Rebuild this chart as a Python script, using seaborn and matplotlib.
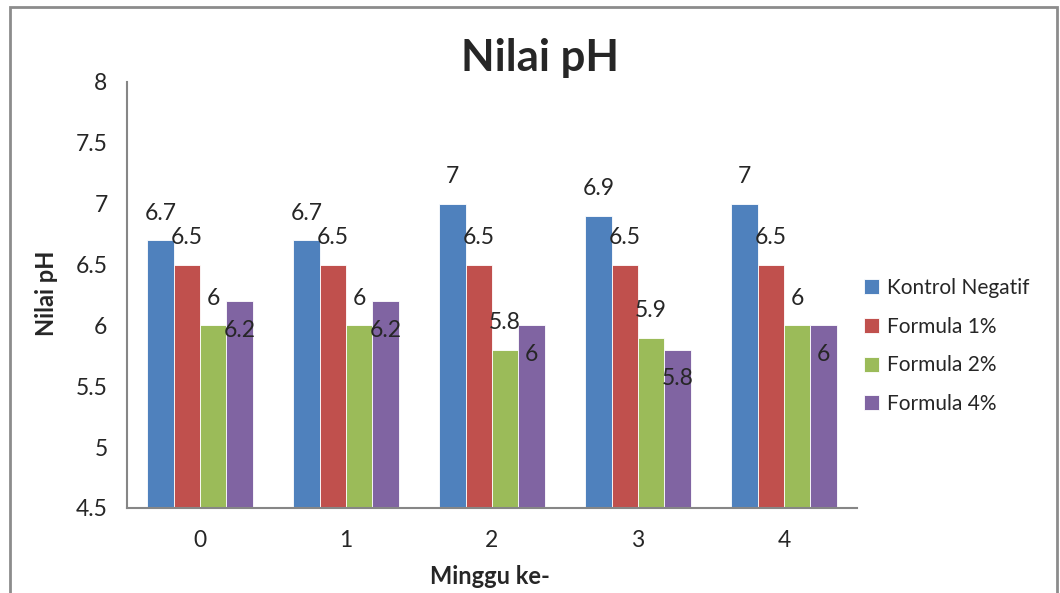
import matplotlib.pyplot as plt
import pandas as pd
import seaborn as sns
from matplotlib.patches import Rectangle

# Data
weeks = ['0', '1', '2', '3', '4']
series = ['Kontrol Negatif', 'Formula 1%', 'Formula 2%', 'Formula 4%']
kontrol = [6.7, 6.7, 7, 6.9, 7]
formula_1 = [6.5, 6.5, 6.5, 6.5, 6.5]
formula_2 = [6, 6, 5.8, 5.9, 6]
formula_4 = [6.2, 6.2, 6, 5.8, 6]
colors = ['#4F81BD', '#C0504D', '#9BBB59', '#8064A2']

# Long format table for seaborn
rows = []
for name, vals in zip(series, [kontrol, formula_1, formula_2, formula_4]):
    for w, v in zip(weeks, vals):
        rows.append({'Minggu': w, 'Seri': name, 'pH': v})
df = pd.DataFrame(rows)

sns.set_style('white')
plt.rcParams['font.family'] = ['Lato', 'DejaVu Sans']

fig = plt.figure(figsize=(10.6, 5.93), dpi=100)
ax = fig.add_axes([127 / 1060, 1 - 508 / 593, 730 / 1060, 426 / 593])

sns.barplot(data=df, x='Minggu', y='pH', hue='Seri', palette=colors,
            width=0.72, ax=ax, edgecolor='white', linewidth=0.6, saturation=1)

ax.set_ylim(4.5, 8)
ax.set_xlim(-0.5, 4.5)
ax.set_yticks([4.5, 5, 5.5, 6, 6.5, 7, 7.5, 8])
ax.set_yticklabels(['4.5', '5', '5.5', '6', '6.5', '7', '7.5', '8'])
ax.tick_params(axis='both', length=0, labelsize=16.5, pad=14)
ax.tick_params(axis='x', pad=16)

for side in ['top', 'right']:
    ax.spines[side].set_visible(False)
for side in ['left', 'bottom']:
    ax.spines[side].set_color('#868686')
    ax.spines[side].set_linewidth(1.5)

# Data labels
for i, cont in enumerate(ax.containers):
    off = -21 if i == 3 else 19.5
    for bar in cont:
        h = bar.get_height()
        ax.annotate(f'{h:g}', (bar.get_x() + bar.get_width() / 2, h),
                    xytext=(0, off), textcoords='offset points',
                    ha='center', va='center', fontsize=16.5, clip_on=False)

ax.set_xlabel('')
ax.set_ylabel('')
fig.text(540 / 1060, 1 - 58 / 593, 'Nilai pH', fontsize=31.5, fontweight='bold',
         ha='center', va='center')
fig.text(46 / 1060, 1 - 293 / 593, 'Nilai pH', fontsize=17, fontweight='bold',
         ha='center', va='center', rotation=90)
fig.text(490 / 1060, 1 - 577 / 593, 'Minggu ke-', fontsize=17, fontweight='bold',
         ha='center', va='center')

ax.legend(loc='center left', bbox_to_anchor=(845 / 1060, 1 - 346 / 593),
          bbox_transform=fig.transFigure, frameon=False, fontsize=15,
          handlelength=0.73, handleheight=0.73, handletextpad=0.4,
          labelspacing=0.9)

# Chart area border
fig.patches.append(Rectangle((10 / 1060, -0.05), 1047 / 1060, 1.05 - 7 / 593,
                             transform=fig.transFigure, fill=False,
                             edgecolor='#8c8c8c', linewidth=2))

fig.savefig('out.png', dpi=100)
